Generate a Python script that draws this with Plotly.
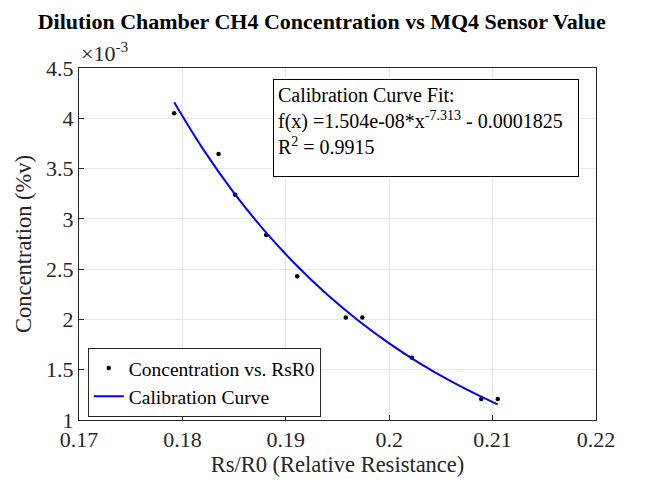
import plotly.graph_objects as go

# measured points
rs_r0 = [0.1792, 0.1835, 0.1851, 0.1881, 0.1911, 0.1958, 0.1974, 0.2022, 0.2089, 0.2105]
conc = [4.05e-3, 3.645e-3, 3.24e-3, 2.84e-3, 2.43e-3, 2.02e-3, 2.02e-3, 1.62e-3, 1.21e-3, 1.21e-3]

# calibration curve, read along the drawn fit
fit_x = [0.1792, 0.182, 0.185, 0.188, 0.191, 0.194, 0.197, 0.200, 0.203, 0.206, 0.209, 0.2105]
fit_y = [4.159e-3, 3.693e-3, 3.256e-3, 2.875e-3, 2.541e-3, 2.247e-3, 1.989e-3, 1.762e-3,
         1.561e-3, 1.384e-3, 1.227e-3, 1.155e-3]

FONT = "Liberation Serif, Times New Roman, serif"
GREY = "#262626"

fig = go.Figure()
fig.add_trace(go.Scatter(
    x=rs_r0, y=[v * 1e3 for v in conc], mode="markers", name="Concentration vs. RsR0",
    marker=dict(color="black", size=4.5),
))
fig.add_trace(go.Scatter(
    x=fit_x, y=[v * 1e3 for v in fit_y], mode="lines", name="Calibration Curve",
    line=dict(color="#0000ff", width=2, shape="spline"),
))

axis_common = dict(
    showline=True, linecolor=GREY, linewidth=1, mirror=True,
    ticks="inside", ticklen=5, tickcolor=GREY,
    showgrid=True, gridcolor="#e6e6e6", zeroline=False,
    tickfont=dict(family=FONT, size=22, color=GREY),
)

fig.update_xaxes(range=[0.17, 0.22], dtick=0.01,
                 title=dict(text="Rs/R0 (Relative Resistance)",
                            font=dict(family=FONT, size=22.5, color=GREY), standoff=1),
                 **axis_common)
fig.update_yaxes(range=[1, 4.5], dtick=0.5,
                 title=dict(text="Concentration (%v)",
                            font=dict(family=FONT, size=22.5, color=GREY), standoff=8),
                 **axis_common)

fig.add_annotation(
    xref="paper", yref="paper", x=0.0, y=1.0, xanchor="left", yanchor="bottom",
    text="×10<sup>-3</sup>", showarrow=False, font=dict(family=FONT, size=22, color=GREY),
)
fig.add_annotation(
    xref="paper", yref="paper", x=0.375, y=0.969, xanchor="left", yanchor="top",
    align="left", valign="top", width=296, height=88,
    text="Calibration Curve Fit:<br>f(x) =1.504e-08*x<sup>-7.313</sup> - 0.0001825<br>R<sup>2</sup> = 0.9915",
    showarrow=False, font=dict(family=FONT, size=20, color="black"),
    bordercolor="black", borderwidth=1, bgcolor="white", borderpad=4,
)

# page body has an 8px margin, so the figure is shrunk by that offset
fig.update_layout(
    width=639, height=479,
    title=dict(text="<b>Dilution Chamber CH4 Concentration vs MQ4 Sensor Value</b>",
               x=0.491, xanchor="center", y=0.973, yanchor="middle",
               font=dict(family=FONT, size=22, color="black")),
    plot_bgcolor="white", paper_bgcolor="white",
    margin=dict(l=71, r=51, t=60, b=67),
    showlegend=True,
    legend=dict(x=0.017, y=0.205, xanchor="left", yanchor="top",
                bordercolor=GREY, borderwidth=1, bgcolor="white",
                font=dict(family=FONT, size=19.5, color="black"), tracegroupgap=0),
)

fig.write_html("out.html")
